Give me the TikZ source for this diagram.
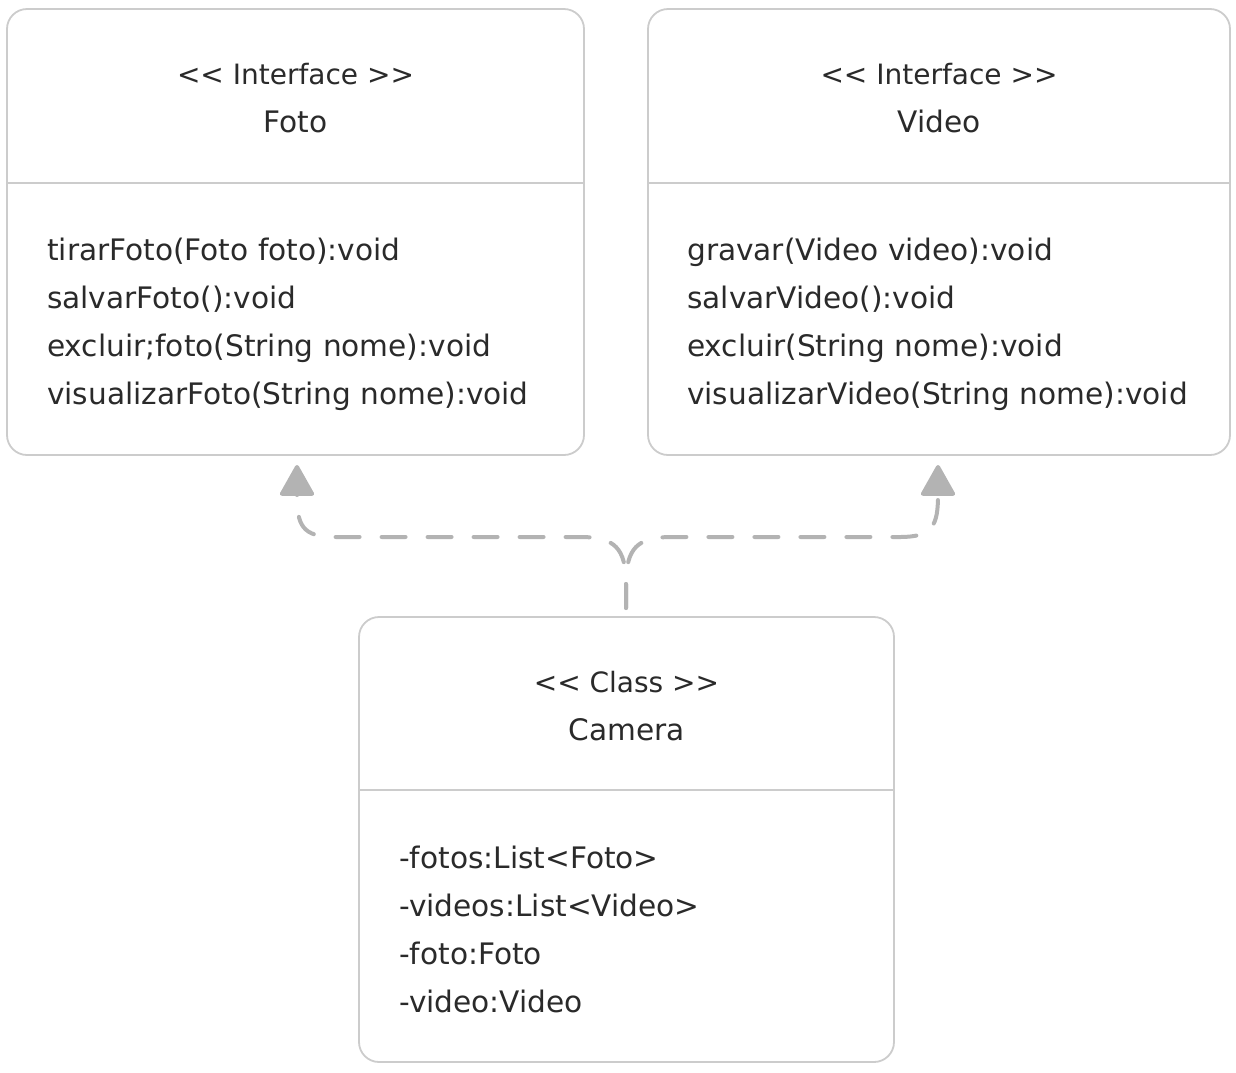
\documentclass[tikz,border=0pt]{standalone}
\usepackage{fontspec}
\setmainfont{DejaVu Sans}[Ligatures=TeXOff]
\usetikzlibrary{arrows.meta}
\definecolor{boxline}{HTML}{CCCCCC}
\definecolor{txt}{HTML}{2A2A2A}
\definecolor{conn}{HTML}{B3B3B3}
\tikzset{
  umlbox/.style={draw=boxline, line width=1.8pt, rounded corners=20pt, fill=white},
  divider/.style={draw=boxline, line width=1.5pt},
  hdr/.style={anchor=base, text=txt, font=\fontsize{28}{34}\selectfont, inner sep=0pt},
  hname/.style={anchor=base, text=txt, font=\fontsize{29.6}{34}\selectfont, inner sep=0pt},
  item/.style={anchor=base west, text=txt, font=\fontsize{29.6}{34}\selectfont, inner sep=0pt},
  realize/.style={draw=conn, line width=4pt, line cap=round, dash pattern=on 24pt off 22pt},
  tip/.style={-{Triangle[width=36pt,length=33pt,round]}}
}
\begin{document}
\begin{tikzpicture}[x=1pt,y=-1pt]
\useasboundingbox (0,0) rectangle (1236,1072);
% Foto
\draw[umlbox] (7,9) rectangle (584,455);
\draw[divider] (7,183) -- (584,183);
\node[hdr] (fotoS) at (295.5,84) {<< Interface >>};
\node[hname] (fotoN) at (295.5,132) {Foto};
\node[item] (f1) at (47,260.5) {tirarFoto(Foto foto):void};
\node[item] (f2) at (47,308.5) {salvarFoto():void};
\node[item] (f3) at (47,356.5) {excluir;foto(String nome):void};
\node[item] (f4) at (47,404.5) {visualizarFoto(String nome):void};
\coordinate (fotoB) at (297,465);
% Video
\draw[umlbox] (648,9) rectangle (1230,455);
\draw[divider] (648,183) -- (1230,183);
\node[hdr] (vidS) at (939,84) {<< Interface >>};
\node[hname] (vidN) at (939,132) {Video};
\node[item] (v1) at (687,260.5) {gravar(Video video):void};
\node[item] (v2) at (687,308.5) {salvarVideo():void};
\node[item] (v3) at (687,356.5) {excluir(String nome):void};
\node[item] (v4) at (687,404.5) {visualizarVideo(String nome):void};
\coordinate (vidB) at (938,465);
% Camera
\draw[umlbox] (359,617) rectangle (894,1062);
\draw[divider] (359,790) -- (894,790);
\node[hdr] (camS) at (626.5,692) {<< Class >>};
\node[hname] (camN) at (626.5,740) {Camera};
\node[item] (c1) at (399,868) {-fotos:List<Foto>};
\node[item] (c2) at (399,916) {-videos:List<Video>};
\node[item] (c3) at (399,964) {-foto:Foto};
\node[item] (c4) at (399,1012) {-video:Video};
\coordinate (camT) at (626,608);
% connectors
\draw[realize, tip] (camT) -- (626,585) .. controls (626,548) and (615,537) .. (580,537) -- (335,537) .. controls (302,537) and (297,525) .. (fotoB);
\draw[realize, tip] (camT) -- (626,585) .. controls (626,548) and (637,537) .. (672,537) -- (900,537) .. controls (933,537) and (938,525) .. (vidB);
\end{tikzpicture}
\end{document}
